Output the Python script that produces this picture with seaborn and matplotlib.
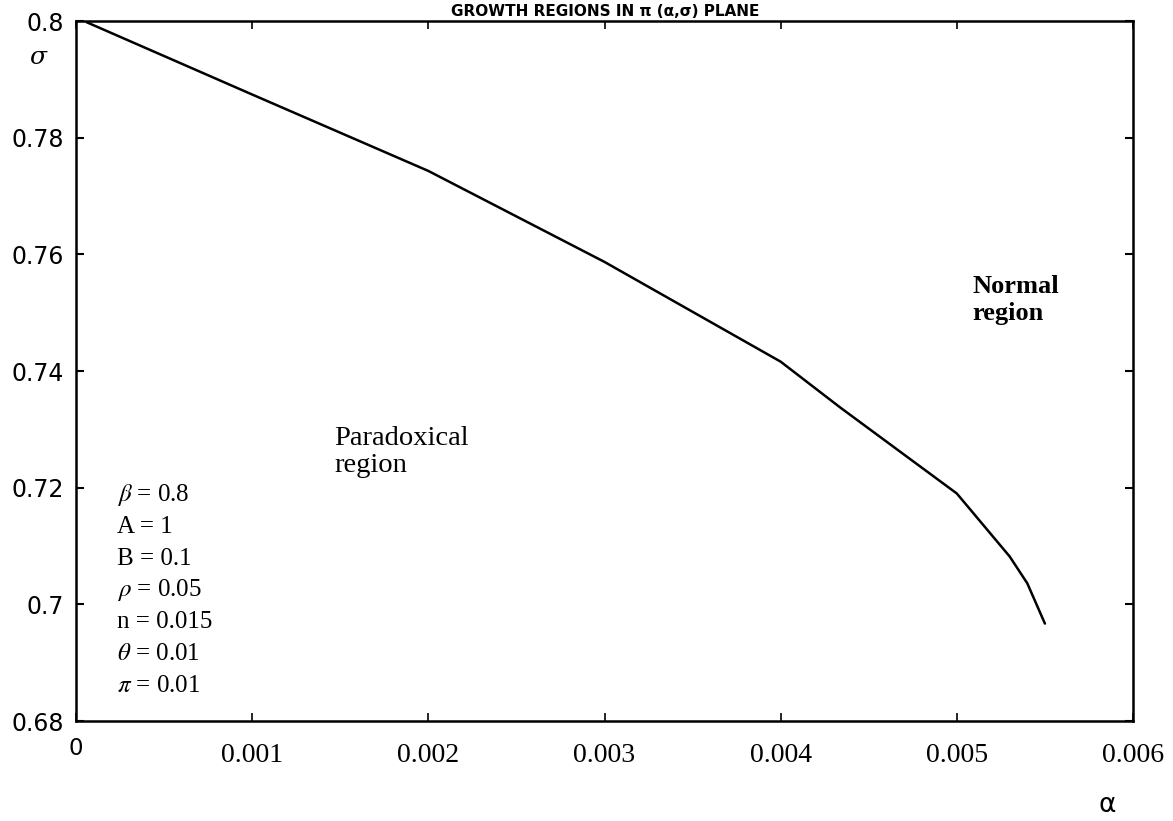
import matplotlib
matplotlib.use("Agg")
import matplotlib.pyplot as plt
import matplotlib.transforms as mtransforms
import seaborn as sns
import pandas as pd

# ---- data ----
alpha = [0.00006, 0.001, 0.002, 0.003, 0.004, 0.00434, 0.005, 0.0053, 0.0054, 0.0055]
sigma = [0.7998, 0.7874, 0.7743, 0.7587, 0.7416, 0.7337, 0.7190, 0.7082, 0.7036, 0.6967]

x_ticks = [0, 0.001, 0.002, 0.003, 0.004, 0.005, 0.006]
x_tick_labels = ["0", "0.001", "0.002", "0.003", "0.004", "0.005", "0.006"]
y_ticks = [0.68, 0.70, 0.72, 0.74, 0.76, 0.78, 0.80]
y_tick_labels = ["0.68", "0.7", "0.72", "0.74", "0.76", "0.78", "0.8"]

params = ["$\\beta$ = 0.8", "A = 1", "B = 0.1", "$\\rho$ = 0.05", "n = 0.015",
          "$\\theta$ = 0.01", "$\\pi$ = 0.01"]
title = "GROWTH REGIONS IN \u03c0 (\u03b1,\u03c3) PLANE"

df = pd.DataFrame({"alpha": alpha, "sigma": sigma})

sns.set_style("white")
plt.rcParams["font.family"] = ["DejaVu Sans"]
plt.rcParams["mathtext.fontset"] = "stix"
plt.rcParams["text.color"] = "black"

fig = plt.figure(figsize=(11.73, 8.21), dpi=100)
ax = fig.add_axes([0.0648, 0.1218, 0.9011, 0.8526])

sns.lineplot(data=df, x="alpha", y="sigma", ax=ax, color="black", linewidth=1.8,
             sort=False, estimator=None)

ax.set_xlim(0, 0.006)
ax.set_ylim(0.68, 0.80)
ax.set_xlabel("")
ax.set_ylabel("")

for s in ax.spines.values():
    s.set_visible(True)
    s.set_color("black")
    s.set_linewidth(1.8)

ax.set_xticks(x_ticks)
ax.set_xticklabels([""] + x_tick_labels[1:], fontfamily="Liberation Serif", fontsize=20)
ax.set_yticks(y_ticks)
ax.set_yticklabels(y_tick_labels, fontfamily="DejaVu Sans", fontsize=17)
ax.tick_params(axis="x", direction="in", length=6, width=1.2, pad=16,
               top=True, bottom=True, colors="black")
ax.tick_params(axis="y", direction="in", length=6, width=1.5, pad=9,
               left=True, right=True, colors="black")

# the "0" label at the origin, drawn slightly higher like the reference
t0 = ax.text(x_ticks[0], 0.68, x_tick_labels[0], fontsize=16.5,
             fontfamily="DejaVu Sans", ha="center", va="top", color="black")
t0.set_transform(ax.transData + mtransforms.ScaledTranslation(0, -0.16, fig.dpi_scale_trans))

# axis labels
fig.text(38 / 1173, 1 - 57 / 821, "\u03c3", fontsize=18, fontstyle="italic",
         fontfamily="DejaVu Serif", ha="center", va="center", color="black")
fig.text(1107 / 1173, 1 - 805 / 821, "\u03b1", fontsize=19,
         fontfamily="DejaVu Sans", ha="center", va="center", color="black")

# title (shrunk so that it fits above the frame)
fig.text(605 / 1173, 1 - 16 / 821, title, fontsize=11, fontweight="bold",
         fontfamily="DejaVu Sans", ha="center", va="baseline", color="black")

# region annotations
fig.text(334 / 1173, 1 - 452 / 821, "Paradoxical\nregion", fontsize=20.5,
         fontfamily="Liberation Serif", ha="left", va="center", linespacing=1.15,
         color="black")
fig.text(972 / 1173, 1 - 300 / 821, "Normal\nregion", fontsize=19, fontweight="bold",
         fontfamily="Liberation Serif", ha="left", va="center", linespacing=1.2,
         color="black")

# parameter list
for i, p in enumerate(params):
    fig.text(117 / 1173, 1 - (495 + i * 31.8) / 821, p, fontsize=18,
             fontfamily="Liberation Serif", ha="left", va="center", color="black")

fig.savefig("out.png", dpi=100, facecolor="white")
